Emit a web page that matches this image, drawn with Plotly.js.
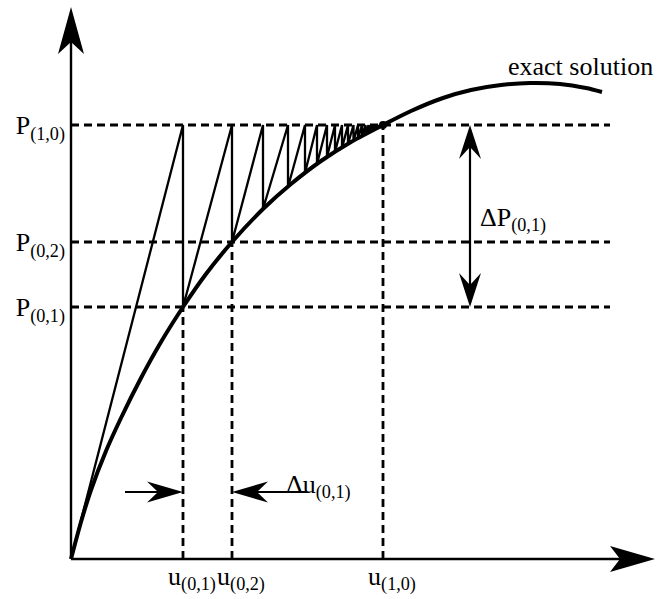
<!DOCTYPE html>
<html>
<head>
<meta charset="utf-8">
<script src="https://cdn.plot.ly/plotly-3.0.1.min.js"></script>
<style>
  html, body { margin: 0; padding: 0; background: #fff; }
  #chart { width: 657px; height: 599px; }
</style>
</head>
<body>
<div id="chart"></div>
<script>
// Exact load–displacement solution
const curveU = [0, 10, 20, 35, 50, 70, 90, 112, 135, 161, 192, 220, 250, 280, 312, 340, 372, 400, 430, 459, 489, 515, 531];
const curveP = [0, 37, 69, 108, 141, 181, 217, 252, 285, 317, 350, 375, 398, 417, 434, 448, 461, 469, 474, 476, 475, 471, 467];

// Iterates of the constant-stiffness scheme (displacement, load on the curve)
const iterU = [112, 161, 192, 217, 234, 246, 256, 264, 271, 277, 282.5, 287, 291, 294.5, 297.5, 300, 302, 304, 305.5, 307, 308, 309, 310, 311];
const iterP = [252, 317, 350, 372, 386, 395, 402, 407, 411, 415, 418, 421, 423, 425, 426, 428, 429, 430, 430.5, 431, 432, 432.5, 433, 433.5];

// Reference levels
const loadLevels = [252, 317, 434];
const loadLabels = ['P<sub>(0,1)</sub>', 'P<sub>(0,2)</sub>', 'P<sub>(1,0)</sub>'];
const dispLevels = [112, 161, 312];
const dispLabels = ['u<sub>(0,1)</sub>', 'u<sub>(0,2)</sub>', 'u<sub>(1,0)</sub>'];
const targetLoad = 434;

const FONT = 'Liberation Serif, Times New Roman, serif';
const INK = '#000';

// Saw-tooth path: from the origin up to the target load, then down onto the curve
const sawX = [0], sawY = [0];
for (let i = 0; i < iterU.length; i++) {
  sawX.push(iterU[i], iterU[i]);
  sawY.push(targetLoad, iterP[i]);
}
sawX.push(dispLevels[2]);
sawY.push(targetLoad);

// Dashed guides: horizontals at each load level, verticals up to the curve
const dashEnd = 539;
const guideX = [], guideY = [];
loadLevels.forEach(p => { guideX.push(0, dashEnd, null); guideY.push(p, p, null); });
dispLevels.forEach((u, i) => { guideX.push(u, u, null); guideY.push(0, loadLevels[i], null); });

const traces = [
  { x: guideX, y: guideY, mode: 'lines', line: { color: INK, width: 2.8, dash: '8px,5px' }, hoverinfo: 'skip' },
  { x: sawX, y: sawY, mode: 'lines', line: { color: INK, width: 2.3 }, hoverinfo: 'skip' },
  { x: curveU, y: curveP, mode: 'lines', line: { color: INK, width: 4, shape: 'spline', smoothing: 0.8 }, hoverinfo: 'skip' },
  { x: [dispLevels[2]], y: [loadLevels[2]], mode: 'markers', marker: { color: INK, size: 8 }, hoverinfo: 'skip' }
];

// Barbed arrow head pointing along (dx, dy)
function head(tx, ty, dx, dy, len, half, notch) {
  const bx = tx - dx * len, by = ty - dy * len;
  const nx = tx - dx * notch, ny = ty - dy * notch;
  const px = -dy, py = dx;
  return {
    type: 'path', xref: 'x', yref: 'y',
    path: `M${tx},${ty} L${bx + px * half},${by + py * half} L${nx},${ny} L${bx - px * half},${by - py * half} Z`,
    fillcolor: INK, line: { width: 0 }
  };
}
function seg(x0, y0, x1, y1, w) {
  return { type: 'line', xref: 'x', yref: 'y', x0, y0, x1, y1, line: { color: INK, width: w } };
}

const arrowY = 67;      // height of the displacement-increment arrows
const arrowX = 399;     // position of the load-increment arrow
const shapes = [
  // axes
  seg(0, 0, 0, 520, 2.4), head(0, 552, 0, 1, 47, 13, 35),
  seg(0, 0, 555, 0, 2.4), head(584, 0, 1, 0, 45, 13, 35),
  // load increment
  seg(arrowX, loadLevels[0] + 10, arrowX, loadLevels[2] - 10, 2.2),
  head(arrowX, loadLevels[2], 0, 1, 34, 11, 22),
  head(arrowX, loadLevels[0], 0, -1, 34, 11, 22),
  // displacement increment
  seg(54, arrowY, dispLevels[0] - 10, arrowY, 2.2),
  head(dispLevels[0], arrowY, 1, 0, 36, 10.5, 25),
  seg(dispLevels[1] + 10, arrowY, 236, arrowY, 2.2),
  head(dispLevels[1], arrowY, -1, 0, 36, 10.5, 25)
];

const annotations = [
  { x: 435, y: 493, xanchor: 'left', yanchor: 'middle', text: 'exact solution', showarrow: false,
    font: { family: FONT, size: 26, color: INK } },
  { x: 407, y: 340, xanchor: 'left', yanchor: 'middle', text: 'ΔP<sub>(0,1)</sub>', showarrow: false,
    font: { family: FONT, size: 26, color: INK } },
  { x: 213, y: 73, xanchor: 'left', yanchor: 'middle', text: 'Δu<sub>(0,1)</sub>', showarrow: false,
    font: { family: FONT, size: 26, color: INK } }
];

const layout = {
  width: 657, height: 599,
  margin: { l: 0, r: 0, t: 0, b: 0 },
  paper_bgcolor: '#fff', plot_bgcolor: '#fff',
  showlegend: false,
  xaxis: {
    range: [-71, 586], showgrid: false, zeroline: false, showline: false,
    anchor: 'free', position: 40 / 599,
    tickmode: 'array', tickvals: dispLevels, ticktext: dispLabels, ticks: '', tickangle: 0,
    ticklabelshift: 9, ticklabelstandoff: -1,
    tickfont: { family: FONT, size: 26, color: INK }, fixedrange: true
  },
  yaxis: {
    range: [-40, 559], showgrid: false, zeroline: false, showline: false,
    anchor: 'free', position: 71 / 657,
    tickmode: 'array', tickvals: loadLevels, ticktext: loadLabels, ticks: '',
    ticklabelstandoff: 6,
    tickfont: { family: FONT, size: 26, color: INK }, fixedrange: true
  },
  shapes, annotations
};

Plotly.newPlot('chart', traces, layout, { displayModeBar: false, staticPlot: true });
</script>
</body>
</html>
